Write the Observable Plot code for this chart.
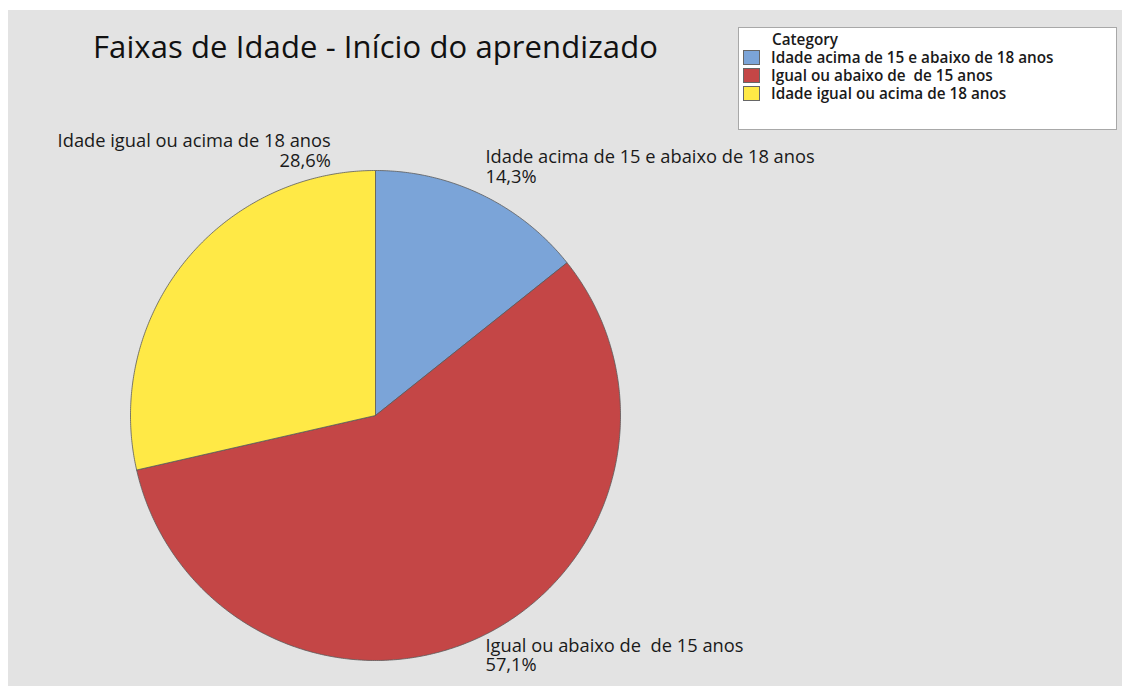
<!DOCTYPE html>
<html>
<head>
<meta charset="utf-8">
<script src="https://cdn.jsdelivr.net/npm/d3@7"></script>
<script src="https://cdn.jsdelivr.net/npm/@observablehq/plot@0.6"></script>
<style>
  html, body { margin: 0; padding: 0; background: #ffffff; }
  body { width: 1122px; height: 686px; position: relative; overflow: hidden; font-family: "Open Sans", "Noto Sans", sans-serif; }
  #wrap { position: absolute; left: 8px; top: 10px; width: 1114px; height: 676px; background: #e3e3e3; }
  #chart { position: absolute; left: 0; top: 0; }
  #title { position: absolute; left: 85px; top: 15px; font-size: 31px; color: #111; white-space: nowrap; letter-spacing: 0.1px; }
  #legend { position: absolute; left: 730px; top: 17px; width: 379px; height: 103px; box-sizing: border-box; background: #fff; border: 1px solid #a8a8a8; font-size: 15.3px; font-weight: 600; color: #1a1a1a; }
  #legend .head { position: absolute; left: 33px; top: 1px; }
  #legend .item { position: absolute; left: 4px; white-space: pre; }
  #legend .sw { display: inline-block; width: 17px; height: 15px; border: 1px solid #666; box-sizing: border-box; vertical-align: -2px; margin-right: 11px; }
  svg text { white-space: pre; }
</style>
</head>
<body>
<div id="wrap">
  <div id="chart"></div>
  <div id="title">Faixas de Idade - Início do aprendizado</div>
  <div id="legend"></div>
</div>
<script>
const categories = ["Idade acima de 15 e abaixo de 18 anos", "Igual ou abaixo de  de 15 anos", "Idade igual ou acima de 18 anos"];
const counts = [1, 4, 2];
const colors = ["#7BA4D8", "#C44646", "#FFE946"];
const legendTitle = "Category";

const total = d3.sum(counts);
const fmt = v => (v * 100).toFixed(1).replace(".", ",") + "%";

// slice geometry derived from the counts
let acc = 0;
const slices = categories.map((c, i) => {
  const a0 = acc / total * 2 * Math.PI;
  acc += counts[i];
  const a1 = acc / total * 2 * Math.PI;
  return {category: c, count: counts[i], share: counts[i] / total, a0, a1, mid: (a0 + a1) / 2};
});

const polyPoints = [];
for (const s of slices) {
  polyPoints.push({category: s.category, x: 0, y: 0});
  const n = Math.max(2, Math.ceil((s.a1 - s.a0) / (Math.PI / 360)));
  for (let k = 0; k <= n; k++) {
    const a = s.a0 + (s.a1 - s.a0) * k / n;
    polyPoints.push({category: s.category, x: Math.sin(a), y: Math.cos(a)});
  }
  polyPoints.push({category: s.category, x: 0, y: 0});
}

const labels = slices.map(s => ({
  category: s.category,
  text: s.category + "\n" + fmt(s.share),
  x: Math.sin(s.mid) * 1.1,
  y: Math.cos(s.mid) * 1.1
}));

const textStyle = {fontSize: 18.3, lineHeight: 1.07, fill: "#1a1a1a"};

const plot = Plot.plot({
  width: 1114,
  height: 676,
  marginLeft: 122,
  marginRight: 502,
  marginTop: 160,
  marginBottom: 26,
  x: {domain: [-1, 1], axis: null},
  y: {domain: [-1, 1], axis: null},
  color: {domain: categories, range: colors},
  style: {background: "transparent", fontFamily: "'Open Sans', 'Noto Sans', sans-serif", overflow: "visible"},
  marks: [
    Plot.line(polyPoints, {x: "x", y: "y", z: "category", fill: "category", stroke: "#5a5a5a", strokeWidth: 0.8, curve: "linear"}),
    Plot.text(labels.filter(d => d.category === categories[0]), {x: "x", y: "y", text: "text", textAnchor: "start", dx: -7, dy: -6, ...textStyle}),
    Plot.text(labels.filter(d => d.category === categories[1]), {x: "x", y: "y", text: "text", textAnchor: "start", dx: -7, dy: -3, ...textStyle}),
    Plot.text(labels.filter(d => d.category === categories[2]), {x: "x", y: "y", text: "text", textAnchor: "end", dx: 166, dy: -97, ...textStyle})
  ]
});
document.getElementById("chart").appendChild(plot);

const legend = document.getElementById("legend");
const head = document.createElement("div");
head.className = "head";
head.textContent = legendTitle;
legend.appendChild(head);
categories.forEach((c, i) => {
  const row = document.createElement("div");
  row.className = "item";
  row.style.top = (19 + i * 18) + "px";
  const sw = document.createElement("span");
  sw.className = "sw";
  sw.style.background = colors[i];
  row.appendChild(sw);
  row.appendChild(document.createTextNode(c));
  legend.appendChild(row);
});
</script>
</body>
</html>
